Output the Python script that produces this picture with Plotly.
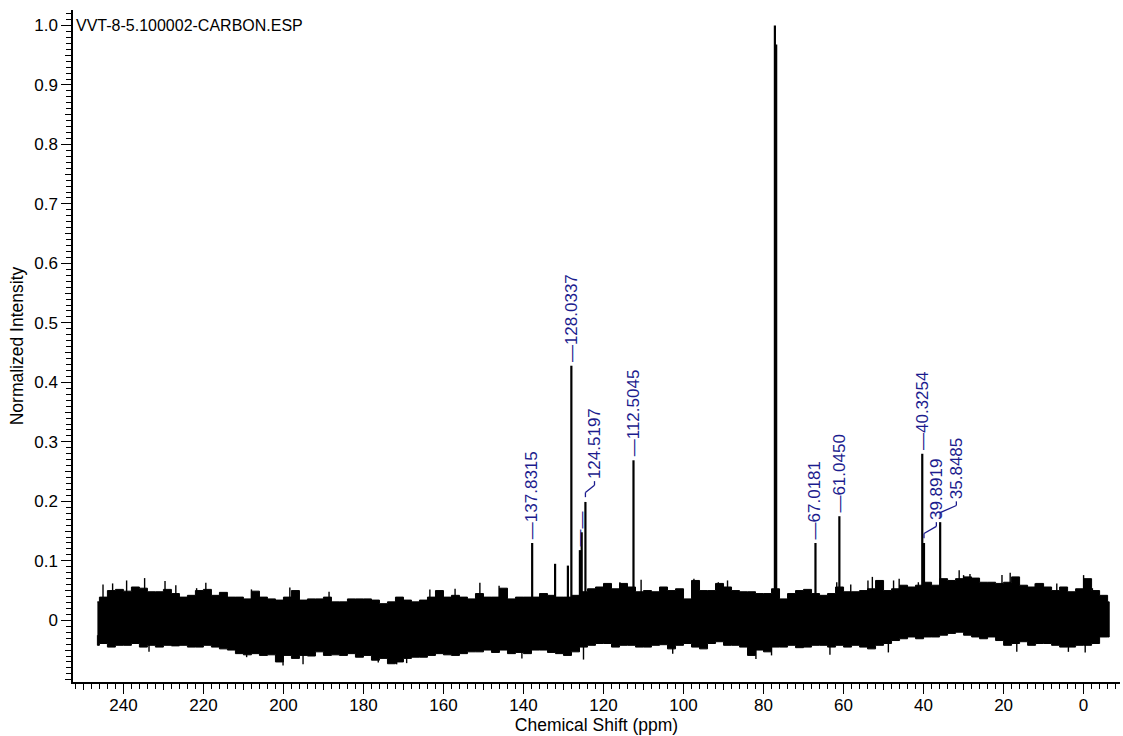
import plotly.graph_objects as go

# ---- text ----
spectrum_name = "VVT-8-5.100002-CARBON.ESP"
x_title = "Chemical Shift (ppm)"
y_title = "Normalized Intensity"

# ---- resolved peaks (ppm, normalized height) ----
peak_ppm = [137.8315, 132.10, 128.90, 128.0337, 125.90, 125.45, 124.5197,
            112.5045, 77.16, 76.84, 67.0181, 61.0450, 40.3254, 39.8919, 35.8485]
peak_int = [0.130, 0.095, 0.092, 0.428, 0.118, 0.148, 0.199,
            0.269, 1.000, 0.968, 0.130, 0.175, 0.280, 0.130, 0.165]

# peaks carrying a chemical-shift label
labeled_ppm = [137.8315, 128.0337, 124.5197, 112.5045, 67.0181, 61.0450,
               40.3254, 39.8919, 35.8485]
# small peaks whose labels show only the leader dash
dash_only_ppm = [125.90, 125.45]

# ---- baseline noise envelope ----
noise_ppm = [246.5,
             246, 244, 242, 240, 238, 236, 234, 232, 230, 228,
             226, 224, 222, 220, 218, 216, 214, 212, 210, 208,
             206, 204, 202, 200, 198, 196, 194, 192, 190, 188,
             186, 184, 182, 180, 178, 176, 174, 172, 170, 168,
             166, 164, 162, 160, 158, 156, 154, 152, 150, 148,
             146, 144, 142, 140, 138, 136, 134, 132, 130, 128,
             126, 124, 122, 120, 118, 116, 114, 112, 110, 108,
             106, 104, 102, 100, 98, 96, 94, 92, 90, 88,
             86, 84, 82, 80, 78, 76, 74, 72, 70, 68,
             66, 64, 62, 60, 58, 56, 54, 52, 50, 48,
             46, 44, 42, 40, 38, 36, 34, 32, 30, 28,
             26, 24, 22, 20, 18, 16, 14, 12, 10, 8,
             6, 4, 2, 0, -2, -4, -6,
             -6.4]
noise_top = [0.031,
             0.039, 0.050, 0.052, 0.049, 0.056, 0.054, 0.048, 0.048, 0.052, 0.045,
             0.039, 0.042, 0.050, 0.052, 0.042, 0.047, 0.039, 0.039, 0.036, 0.049,
             0.039, 0.036, 0.034, 0.039, 0.050, 0.034, 0.036, 0.036, 0.039, 0.031,
             0.031, 0.036, 0.036, 0.036, 0.034, 0.028, 0.031, 0.039, 0.034, 0.031,
             0.034, 0.039, 0.050, 0.039, 0.042, 0.039, 0.036, 0.045, 0.039, 0.039,
             0.054, 0.036, 0.039, 0.039, 0.039, 0.045, 0.042, 0.039, 0.039, 0.042,
             0.048, 0.053, 0.056, 0.062, 0.053, 0.062, 0.056, 0.048, 0.050, 0.048,
             0.056, 0.050, 0.053, 0.036, 0.067, 0.050, 0.050, 0.062, 0.056, 0.050,
             0.048, 0.048, 0.045, 0.045, 0.053, 0.036, 0.045, 0.050, 0.052, 0.045,
             0.042, 0.045, 0.056, 0.048, 0.048, 0.050, 0.053, 0.067, 0.050, 0.053,
             0.059, 0.056, 0.059, 0.064, 0.059, 0.070, 0.067, 0.070, 0.073, 0.071,
             0.064, 0.064, 0.062, 0.064, 0.073, 0.059, 0.056, 0.062, 0.056, 0.050,
             0.056, 0.048, 0.053, 0.070, 0.050, 0.042, 0.031,
             0.031]
noise_bottom = [-0.025,
                -0.042, -0.039, -0.045, -0.042, -0.042, -0.039, -0.045, -0.042, -0.045, -0.042,
                -0.043, -0.042, -0.045, -0.045, -0.042, -0.045, -0.048, -0.050, -0.056, -0.058,
                -0.056, -0.059, -0.058, -0.070, -0.059, -0.064, -0.059, -0.060, -0.053, -0.059,
                -0.058, -0.059, -0.056, -0.062, -0.059, -0.067, -0.064, -0.073, -0.070, -0.064,
                -0.062, -0.062, -0.059, -0.056, -0.058, -0.059, -0.056, -0.053, -0.053, -0.050,
                -0.054, -0.050, -0.056, -0.054, -0.056, -0.050, -0.050, -0.054, -0.056, -0.059,
                -0.053, -0.045, -0.042, -0.039, -0.039, -0.045, -0.042, -0.042, -0.045, -0.045,
                -0.042, -0.041, -0.048, -0.042, -0.039, -0.045, -0.048, -0.039, -0.036, -0.042,
                -0.042, -0.045, -0.059, -0.050, -0.053, -0.045, -0.045, -0.042, -0.046, -0.045,
                -0.042, -0.042, -0.045, -0.042, -0.045, -0.042, -0.045, -0.048, -0.042, -0.039,
                -0.034, -0.031, -0.028, -0.031, -0.028, -0.028, -0.025, -0.022, -0.020, -0.025,
                -0.028, -0.031, -0.028, -0.034, -0.042, -0.039, -0.036, -0.042, -0.039, -0.039,
                -0.042, -0.045, -0.045, -0.042, -0.042, -0.039, -0.028,
                -0.028]

# isolated noise spikes poking out of the band (ppm, intensity)
spike_ppm = [245.1, 242.7, 239.2, 234.7, 229.6, 226.9, 221.7, 219.4, 208.0, 198.4,
             188.6, 163.4, 157.1, 150.9, 146.1, 115.9, 110.6, 97.4, 91.3, 89.0,
             61.7, 58.2, 53.9, 52.8, 47.5, 46.1, 41.3, 31.1, 30.0, 28.4,
             20.4, 18.35, 12.1, 6.7, 0.0, -2.2,
             233.6, 209.2, 200.1, 195.1, 176.3, 171.7, 169.2, 140.4, 125.0, 102.7,
             81.9, 78.0, 63.4, 48.8, 16.7, 3.8, -0.4]
spike_int = [0.060, 0.062, 0.067, 0.071, 0.066, 0.059, 0.054, 0.063, 0.052, 0.055,
             0.048, 0.052, 0.053, 0.063, 0.058, 0.064, 0.068, 0.070, 0.064, 0.067,
             0.064, 0.060, 0.067, 0.073, 0.067, 0.070, 0.064, 0.084, 0.076, 0.078,
             0.076, 0.080, 0.062, 0.062, 0.076, 0.054,
             -0.053, -0.062, -0.076, -0.074, -0.071, -0.074, -0.072, -0.064, -0.066, -0.056,
             -0.065, -0.059, -0.058, -0.054, -0.053, -0.053, -0.054]

x_tick_vals = [240, 220, 200, 180, 160, 140, 120, 100, 80, 60, 40, 20, 0]
y_tick_vals = [0, 0.1, 0.2, 0.3, 0.4, 0.5, 0.6, 0.7, 0.8, 0.9, 1.0]
y_tick_text = ["0", "0.1", "0.2", "0.3", "0.4", "0.5", "0.6", "0.7", "0.8", "0.9", "1.0"]

# ---- styling ----
FONT = "Liberation Sans, Arial, sans-serif"
LABEL_BLUE = "#1c1c8e"
X_RANGE = [252.6, -9.1]
Y_RANGE = [-0.1037, 1.026]
# labels shifted sideways, with a bent leader: peak ppm -> ppm of label
bent_label_pos = {124.5197: 122.25, 39.8919: 36.8, 35.8485: 31.8}


def stick_path(xs, ys):
    px, py = [], []
    for x, y in zip(xs, ys):
        px += [x, x, None]
        py += [0, y, None]
    return px, py


fig = go.Figure()

# noise band, drawn as a stepped envelope
fig.add_trace(go.Scatter(
    x=noise_ppm + noise_ppm[::-1],
    y=noise_top + noise_bottom[::-1],
    fill="toself", fillcolor="black", mode="lines",
    line=dict(color="black", width=1, shape="hv"),
    hoverinfo="skip", showlegend=False))

sx, sy = stick_path(spike_ppm, spike_int)
fig.add_trace(go.Scatter(x=sx, y=sy, mode="lines",
                         line=dict(color="black", width=1.4),
                         hoverinfo="skip", showlegend=False))

# peaks
px, py = stick_path(peak_ppm, peak_int)
fig.add_trace(go.Scatter(x=px, y=py, mode="lines",
                         line=dict(color="black", width=2.2),
                         hoverinfo="skip", showlegend=False))

# empty trace so the overlaid tick axes are laid out
fig.add_trace(go.Scatter(x=[None], y=[None], xaxis="x2", yaxis="y2",
                         showlegend=False, hoverinfo="skip"))

height_of = dict(zip(peak_ppm, peak_int))
annotations = []
shapes = []
for p in labeled_ppm:
    h = height_of[p]
    label = f"{p:.4f}"
    if p in bent_label_pos:
        lx = bent_label_pos[p]
        lead_x = [p, p, lx, lx]
        lead_y = [h + 0.008, h + 0.016, h + 0.028, h + 0.035]
        for i in range(3):
            shapes.append(dict(type="line", xref="x", yref="y",
                               x0=lead_x[i], y0=lead_y[i],
                               x1=lead_x[i + 1], y1=lead_y[i + 1],
                               line=dict(color=LABEL_BLUE, width=1.3)))
        annotations.append(dict(x=lx, y=h + 0.035, xref="x", yref="y",
                                text=label, textangle=-90, showarrow=False,
                                xanchor="center", yanchor="bottom",
                                font=dict(family=FONT, size=17, color=LABEL_BLUE)))
    else:
        annotations.append(dict(x=p, y=h, xref="x", yref="y",
                                text="\u2014" + label, textangle=-90,
                                showarrow=False, xanchor="center",
                                yanchor="bottom", yshift=2,
                                font=dict(family=FONT, size=17, color=LABEL_BLUE)))

for p in dash_only_ppm:
    h = height_of[p]
    annotations.append(dict(x=p, y=h, xref="x", yref="y", text="\u2014",
                            textangle=-90, showarrow=False, xanchor="center",
                            yanchor="bottom", yshift=2,
                            font=dict(family=FONT, size=17, color=LABEL_BLUE)))

annotations.append(dict(x=0, y=1.0, xref="paper", yref="y", text=spectrum_name,
                        showarrow=False, xanchor="left", yanchor="middle",
                        xshift=1, font=dict(family=FONT, size=16, color="black")))

fig.update_layout(
    width=1123, height=736,
    margin=dict(l=73, r=3, t=10, b=54),
    paper_bgcolor="white", plot_bgcolor="white",
    font=dict(family=FONT, size=17, color="black"),
    showlegend=False,
    annotations=annotations,
    shapes=shapes,
    xaxis=dict(
        range=X_RANGE, tickmode="array", tickvals=x_tick_vals,
        ticks="outside", ticklen=10, tickwidth=1.4, tickcolor="black",
        ticklabelstandoff=-3,
        showline=True, linecolor="black", linewidth=1.5,
        showgrid=False, zeroline=False,
        tickfont=dict(family=FONT, size=17, color="black"),
        minor=dict(tickmode="linear", tick0=0, dtick=2, ticks="outside",
                   ticklen=5, tickwidth=1.2, tickcolor="black", showgrid=False),
        title=dict(text=x_title, standoff=0,
                   font=dict(family=FONT, size=17.5, color="black")),
    ),
    xaxis2=dict(
        range=X_RANGE, overlaying="x", anchor="y", side="bottom",
        tickmode="linear", tick0=0, dtick=10, ticks="outside", ticklen=7,
        tickwidth=1.3, tickcolor="black", showticklabels=False,
        showline=False, showgrid=False, zeroline=False,
    ),
    yaxis=dict(
        range=Y_RANGE, tickmode="array", tickvals=y_tick_vals, ticktext=y_tick_text,
        ticks="outside", ticklen=10, tickwidth=1.4, tickcolor="black",
        showline=True, linecolor="black", linewidth=1.5,
        showgrid=False, zeroline=False,
        tickfont=dict(family=FONT, size=17, color="black"),
        minor=dict(tickmode="linear", tick0=0, dtick=0.01, ticks="outside",
                   ticklen=5, tickwidth=1.2, tickcolor="black", showgrid=False),
        title=dict(text=y_title, standoff=6,
                   font=dict(family=FONT, size=17.5, color="black")),
    ),
    yaxis2=dict(
        range=Y_RANGE, overlaying="y", anchor="x", side="left",
        tickmode="linear", tick0=0, dtick=0.05, ticks="outside", ticklen=7,
        tickwidth=1.3, tickcolor="black", showticklabels=False,
        showline=False, showgrid=False, zeroline=False,
    ),
)

fig.write_html("out.html", config={"displayModeBar": False})
